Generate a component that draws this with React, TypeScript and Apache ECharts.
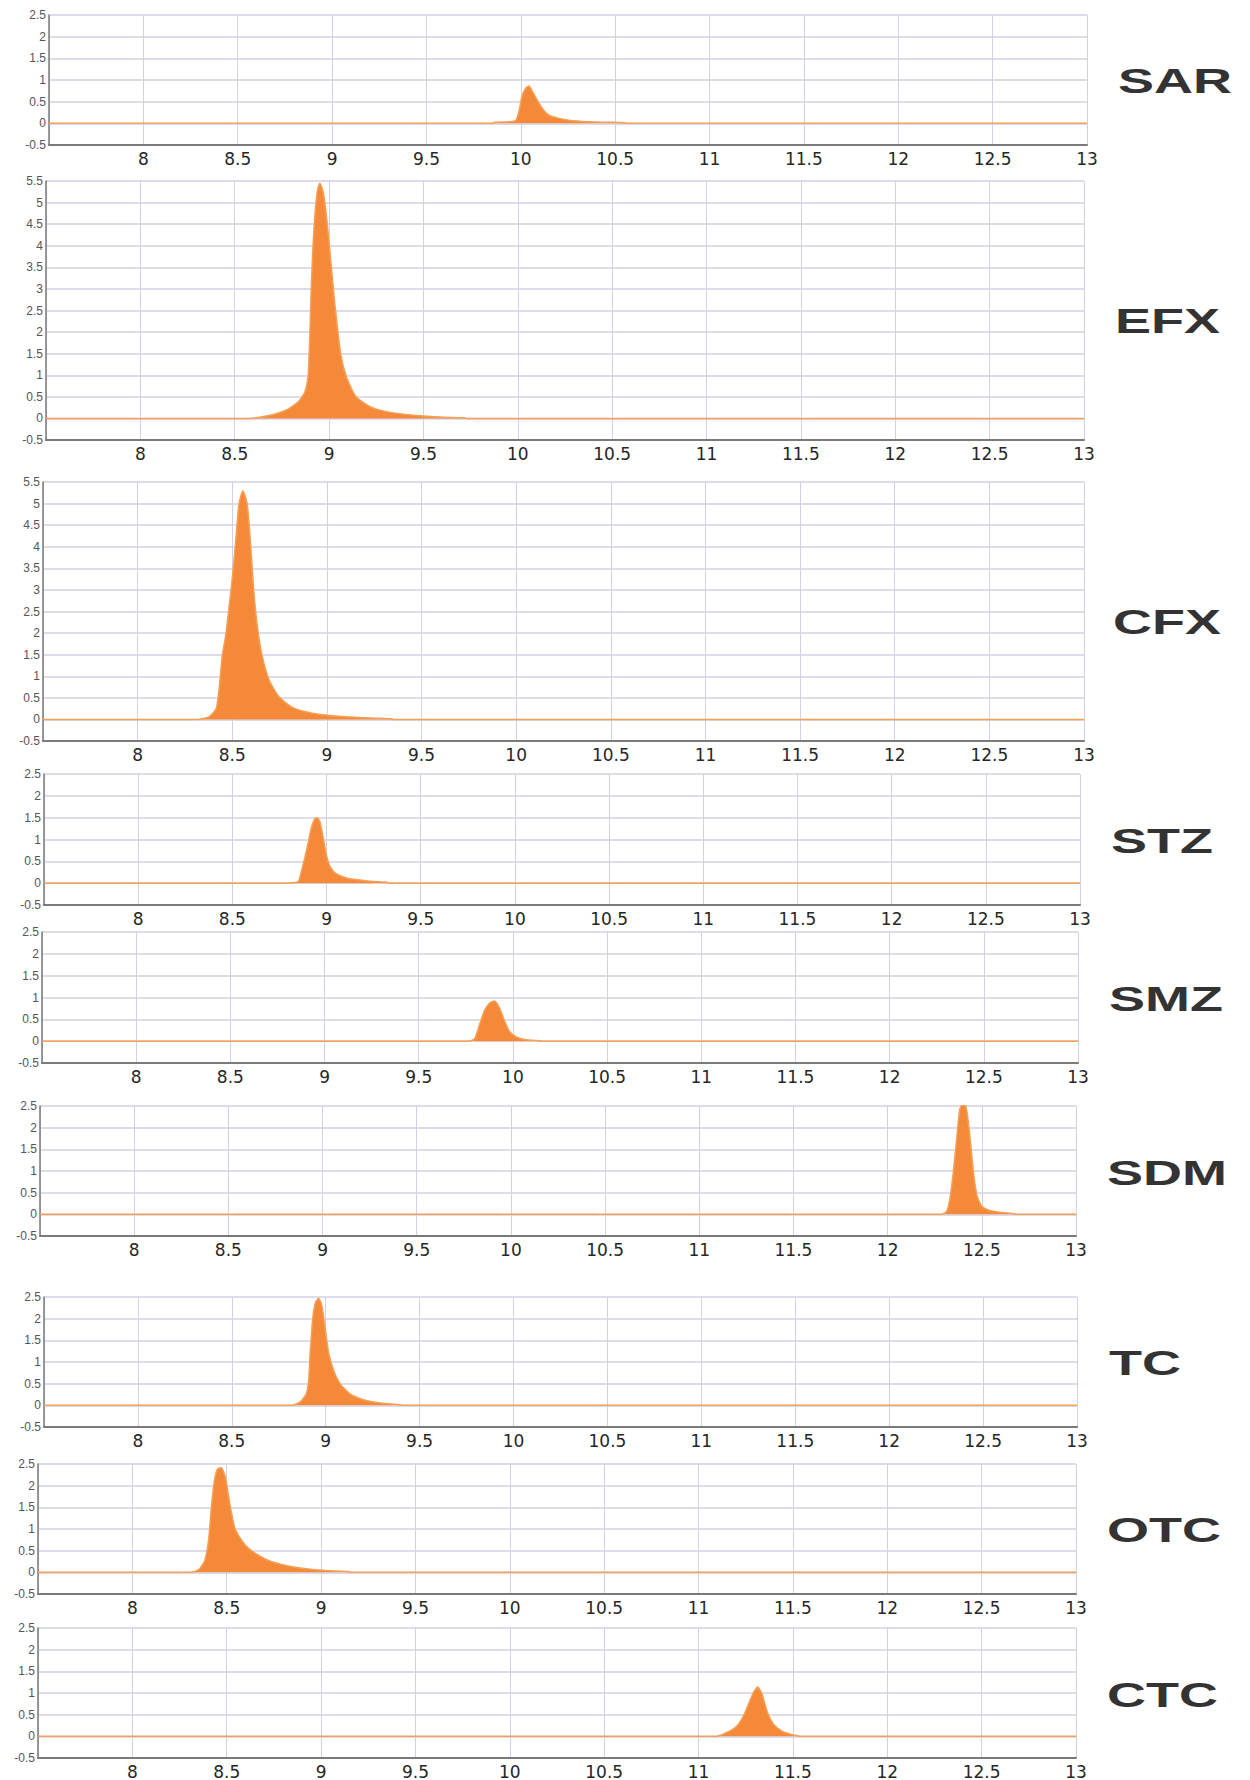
import React, { useEffect, useRef } from "react";
import * as echarts from "echarts";

// ---------- DATA ----------
const compounds = ["SAR", "EFX", "CFX", "STZ", "SMZ", "SDM", "TC", "OTC", "CTC"];
const yMax = [2.5, 5.5, 5.5, 2.5, 2.5, 2.5, 2.5, 2.5, 2.5];
const yMin = -0.5;
const xMin = 7.5;
const xMax = 13;
const xStep = 0.5;
const yStep = 0.5;

const sar: number[][] = [
  [7.5, 0], [9.85, 0], [9.854, 0.02], [9.955, 0.04], [9.976, 0.08], [9.992, 0.31], [10.006, 0.62],
  [10.026, 0.81], [10.043, 0.86], [10.067, 0.69], [10.097, 0.46], [10.128, 0.27], [10.158, 0.17],
  [10.198, 0.12], [10.279, 0.06], [10.4, 0.03], [10.553, 0.015], [10.56, 0], [13, 0],
];
const efx: number[][] = [
  [7.5, 0], [8.565, 0], [8.676, 0.06], [8.777, 0.2], [8.838, 0.39], [8.872, 0.62], [8.888, 0.95],
  [8.897, 1.8], [8.906, 3.1], [8.92, 4.4], [8.937, 5.25], [8.951, 5.45], [8.97, 5.22],
  [8.99, 4.52], [9.01, 3.6], [9.03, 2.67], [9.061, 1.51], [9.091, 0.97], [9.142, 0.51],
  [9.223, 0.26], [9.324, 0.14], [9.486, 0.06], [9.587, 0.03], [9.719, 0.015], [9.725, 0], [13, 0],
];
const cfx: number[][] = [
  [7.5, 0], [8.315, 0], [8.377, 0.06], [8.415, 0.25], [8.43, 0.69], [8.447, 1.47], [8.465, 1.94],
  [8.482, 2.56], [8.5, 3.27], [8.518, 4.13], [8.535, 4.98], [8.556, 5.3], [8.579, 4.98],
  [8.597, 4.05], [8.614, 2.95], [8.632, 2.17], [8.658, 1.47], [8.694, 0.92], [8.746, 0.53],
  [8.817, 0.28], [8.905, 0.16], [8.993, 0.1], [9.099, 0.06], [9.239, 0.03], [9.345, 0.015],
  [9.35, 0], [13, 0],
];
const stz: number[][] = [
  [7.5, 0], [8.788, 0], [8.85, 0.04], [8.867, 0.28], [8.885, 0.59], [8.903, 0.94], [8.92, 1.28],
  [8.938, 1.48], [8.951, 1.5], [8.965, 1.4], [8.982, 1.05], [9.0, 0.63], [9.021, 0.36],
  [9.053, 0.21], [9.106, 0.12], [9.177, 0.07], [9.247, 0.04], [9.323, 0.02], [9.33, 0], [13, 0],
];
const smz: number[][] = [
  [7.5, 0], [9.761, 0], [9.796, 0.05], [9.823, 0.38], [9.849, 0.7], [9.876, 0.87], [9.903, 0.92],
  [9.929, 0.76], [9.956, 0.46], [9.982, 0.22], [10.018, 0.1], [10.071, 0.03], [10.15, 0.01],
  [10.155, 0], [13, 0],
];
const sdm: number[][] = [
  [7.5, 0], [12.286, 0], [12.313, 0.07], [12.33, 0.34], [12.348, 0.95], [12.366, 1.72],
  [12.383, 2.42], [12.405, 2.61], [12.422, 2.34], [12.44, 1.65], [12.458, 0.88], [12.475, 0.42],
  [12.498, 0.2], [12.542, 0.09], [12.595, 0.05], [12.675, 0.015], [12.68, 0], [13, 0],
];
const tc: number[][] = [
  [7.5, 0], [8.82, 0], [8.864, 0.08], [8.896, 0.26], [8.909, 0.57], [8.918, 1.27], [8.932, 2.05],
  [8.945, 2.37], [8.962, 2.47], [8.98, 2.29], [8.998, 1.74], [9.016, 1.2], [9.043, 0.8],
  [9.078, 0.49], [9.131, 0.26], [9.202, 0.13], [9.291, 0.055], [9.398, 0.015], [9.405, 0], [13, 0],
];
const otc: number[][] = [
  [7.5, 0], [8.309, 0], [8.354, 0.07], [8.384, 0.28], [8.404, 0.75], [8.419, 1.52], [8.435, 2.13],
  [8.451, 2.38], [8.47, 2.42], [8.492, 2.21], [8.516, 1.59], [8.541, 1.05], [8.567, 0.82],
  [8.598, 0.63], [8.638, 0.48], [8.719, 0.28], [8.821, 0.15], [8.922, 0.08], [9.024, 0.04],
  [9.15, 0.015], [9.155, 0], [13, 0],
];
const ctc: number[][] = [
  [7.5, 0], [11.094, 0], [11.15, 0.09], [11.203, 0.24], [11.239, 0.48], [11.265, 0.75],
  [11.292, 1.02], [11.314, 1.14], [11.336, 0.98], [11.362, 0.59], [11.397, 0.28], [11.442, 0.12],
  [11.486, 0.05], [11.53, 0.01], [11.535, 0], [13, 0],
];
const seriesData = [sar, efx, cfx, stz, smz, sdm, tc, otc, ctc];

// ---------- LAYOUT ----------
const grids = [
  { left: 49, top: 15, width: 1038, height: 130 },
  { left: 46, top: 181, width: 1038, height: 259 },
  { left: 43, top: 482, width: 1041, height: 259 },
  { left: 44, top: 774, width: 1036, height: 131 },
  { left: 42, top: 932, width: 1036, height: 131 },
  { left: 40, top: 1106, width: 1036, height: 130 },
  { left: 44, top: 1297, width: 1033, height: 130 },
  { left: 38, top: 1464, width: 1038, height: 130 },
  { left: 38, top: 1628, width: 1038, height: 131 },
];
const labelPos = [
  [1118, 80], [1115, 320], [1113, 621], [1111, 840], [1109, 998],
  [1107, 1172], [1109, 1362], [1107, 1529], [1107, 1694],
];

const GRID_COLOR = "#D3D0E4";
const AXIS_COLOR = "#7a7a7a";
const FILL = "#F4893A";
const LINE = "#F5A055";

export default function App() {
  const ref = useRef<HTMLDivElement>(null);
  useEffect(() => {
    document.body.style.margin = "0";
    if (!ref.current) return;
    const chart = echarts.init(ref.current, undefined, { renderer: "svg" });
    const option: any = {
      animation: false,
      backgroundColor: "#ffffff",
      grid: grids.map((g) => ({ ...g, containLabel: false })),
      xAxis: grids.map((_, i) => ({
        type: "value",
        gridIndex: i,
        min: xMin,
        max: xMax,
        interval: xStep,
        axisLine: { show: true, onZero: false, lineStyle: { color: AXIS_COLOR, width: 2 } },
        axisTick: { show: false },
        axisLabel: {
          showMinLabel: false,
          margin: 5,
          color: "#262626",
          fontSize: 17,
          fontFamily: "DejaVu Sans",
        },
        splitLine: { show: true, lineStyle: { color: GRID_COLOR, width: 1 } },
      })),
      yAxis: grids.map((_, i) => ({
        type: "value",
        gridIndex: i,
        min: yMin,
        max: yMax[i],
        interval: yStep,
        axisLine: { show: true, onZero: false, lineStyle: { color: AXIS_COLOR, width: 1.5 } },
        axisTick: { show: false },
        axisLabel: {
          margin: 3,
          color: "#555555",
          fontSize: 12,
          fontFamily: "Liberation Sans",
        },
        splitLine: { show: true, lineStyle: { color: GRID_COLOR, width: 1.5 } },
      })),
      series: seriesData.map((d, i) => ({
        type: "line",
        name: compounds[i],
        xAxisIndex: i,
        yAxisIndex: i,
        data: d,
        showSymbol: false,
        smooth: 0.2,
        lineStyle: { color: LINE, width: 1.5 },
        itemStyle: { color: FILL },
        areaStyle: { color: FILL, opacity: 1, origin: 0 },
      })),
      graphic: compounds.map((name, i) => ({
        type: "text",
        x: labelPos[i][0],
        y: labelPos[i][1],
        scaleX: 1.5,
        style: {
          text: name,
          fontSize: 36,
          fontWeight: "bold",
          fontFamily: "Liberation Sans",
          fill: "#333333",
          align: "left",
          verticalAlign: "middle",
        },
      })),
    };
    chart.setOption(option);
    return () => chart.dispose();
  }, []);
  return <div ref={ref} style={{ width: 1250, height: 1780 }} />;
}
